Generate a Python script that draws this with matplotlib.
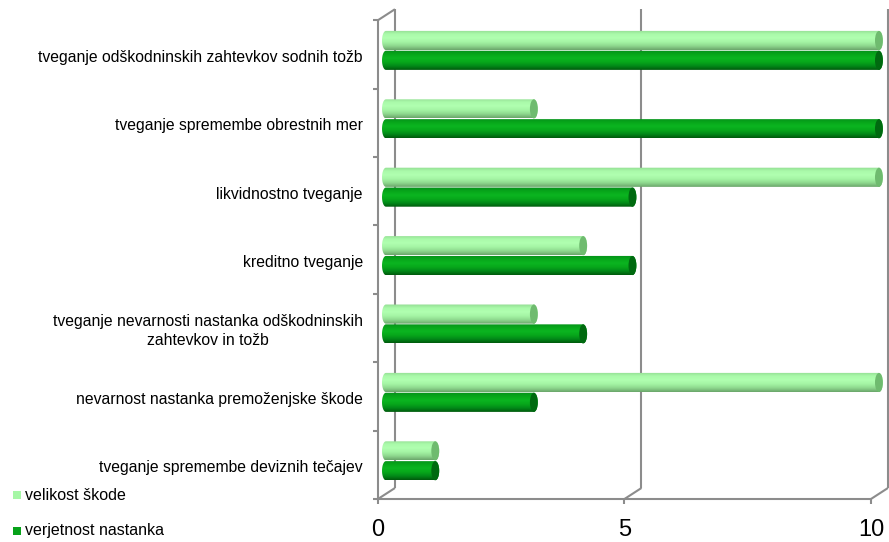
import numpy as np
import matplotlib
matplotlib.use("Agg")
import matplotlib.pyplot as plt
from matplotlib.colors import LinearSegmentedColormap
from matplotlib.lines import Line2D
from matplotlib.patches import Ellipse, PathPatch, Rectangle
from matplotlib.path import Path
from matplotlib.transforms import ScaledTranslation, IdentityTransform

# categories from bottom to top
categories = [
    "tveganje spremembe deviznih tečajev",
    "nevarnost nastanka premoženjske škode",
    "tveganje nevarnosti nastanka odškodninskih\nzahtevkov in tožb",
    "kreditno tveganje",
    "likvidnostno tveganje",
    "tveganje spremembe obrestnih mer",
    "tveganje odškodninskih zahtevkov sodnih tožb",
]
velikost_skode = [1, 10, 3, 4, 10, 3, 10]
verjetnost_nastanka = [1, 3, 4, 5, 5, 10, 10]
xticks = [0, 5, 10]
legend_labels = ["velikost škode", "verjetnost nastanka"]

plt.rcParams["font.family"] = ["Liberation Sans", "DejaVu Sans"]

GREY = "#8c8c8c"
light_cmap = LinearSegmentedColormap.from_list(
    "light", ["#6aa66a", "#8ed88e", "#a4f4a4", "#b0ffb0", "#aafaaa", "#92dc92"])
dark_cmap = LinearSegmentedColormap.from_list(
    "dark", ["#005a0c", "#028a18", "#07a81b", "#0bb520", "#07a61a", "#05901a"])
LIGHT_CAP = "#6fbb6f"
DARK_CAP = "#006a10"
LIGHT_KEY = "#a6f7a6"
DARK_KEY = "#07a21a"


def cylinder(ax, y, value, h, cmap, cap_color):
    w = 0.08  # half width of the end ellipses, data units
    t = np.linspace(-np.pi / 2, np.pi / 2, 40)
    right = np.column_stack([value + w * np.cos(t), y + h / 2 * np.sin(t)])
    tr = t[::-1]
    left = np.column_stack([-w * np.cos(tr), y + h / 2 * np.sin(tr)])
    verts = np.vstack([right, left, right[:1]])
    codes = [Path.MOVETO] + [Path.LINETO] * (len(verts) - 2) + [Path.CLOSEPOLY]
    outline = PathPatch(Path(verts, codes), facecolor="none", edgecolor="none")
    ax.add_patch(outline)
    grad = np.linspace(0, 1, 64).reshape(-1, 1)
    im = ax.imshow(grad, cmap=cmap, extent=(-w, value + w, y - h / 2, y + h / 2),
                   origin="lower", aspect="auto", interpolation="bilinear", zorder=2)
    im.set_clip_path(outline)
    ax.add_patch(Ellipse((value, y), 2 * w, h, facecolor=cap_color,
                         edgecolor="none", zorder=3))


fig = plt.figure(figsize=(8.89, 5.42), dpi=100)
# x from -0.2 to 10.2 at 49.3 px per unit, 0 lands at 386 px
ax = fig.add_axes([376.1 / 889, 47 / 542, 512.7 / 889, 478.8 / 542])
ax.set_axis_off()
ax.patch.set_visible(False)

ymin, ymax = -0.5, len(categories) - 0.5
h = 0.28
off = 0.145
for i, (a, b) in enumerate(zip(velikost_skode, verjetnost_nastanka)):
    cylinder(ax, i + off, a, h, light_cmap, LIGHT_CAP)
    cylinder(ax, i - off, b, h, dark_cmap, DARK_CAP)

ax.set_xlim(-0.2, 10.2)
ax.set_ylim(ymin, ymax)

front = ax.transData + ScaledTranslation(-0.08, -0.04, fig.dpi_scale_trans)
back = ax.transData + ScaledTranslation(0.09, 0.07, fig.dpi_scale_trans)


def seg(p1, p2):
    fig.add_artist(Line2D([p1[0], p2[0]], [p1[1], p2[1]], color=GREY, lw=1.5,
                          transform=IdentityTransform(), solid_capstyle="butt",
                          zorder=-1))


# back wall gridlines and floor edges
for x in xticks:
    b0 = back.transform((x, ymin))
    seg(b0, back.transform((x, ymax)))
    f0 = front.transform((x, ymin))
    seg(f0, b0)
    seg(f0, (f0[0], f0[1] - 5))
    ax.text(x, ymin, str(x), transform=front + ScaledTranslation(0, -0.31, fig.dpi_scale_trans),
            ha="center", va="center", fontsize=17)
seg(front.transform((xticks[0], ymin)), front.transform((xticks[-1], ymin)))

# left wall
seg(front.transform((0, ymin)), front.transform((0, ymax)))
seg(front.transform((0, ymax)), back.transform((0, ymax)))
for k in range(len(categories) + 1):
    p = front.transform((0, ymin + k))
    seg(p, (p[0] - 5, p[1]))

for i, cat in enumerate(categories):
    ax.text(0, i, cat,
            transform=front + ScaledTranslation(-0.15, -0.03, fig.dpi_scale_trans),
            ha="right", va="center", multialignment="center", fontsize=11.3,
            linespacing=1.3)

# legend
for ypix, color, label in [(495, LIGHT_KEY, legend_labels[0]), (531, DARK_KEY, legend_labels[1])]:
    fig.add_artist(Rectangle((13 / 889, (542 - ypix - 4) / 542), 8 / 889, 8 / 542,
                             transform=fig.transFigure, facecolor=color, edgecolor="none"))
    fig.text(25 / 889, (542 - ypix) / 542, label, ha="left", va="center", fontsize=11.5)

fig.savefig("out.png", dpi=100)
